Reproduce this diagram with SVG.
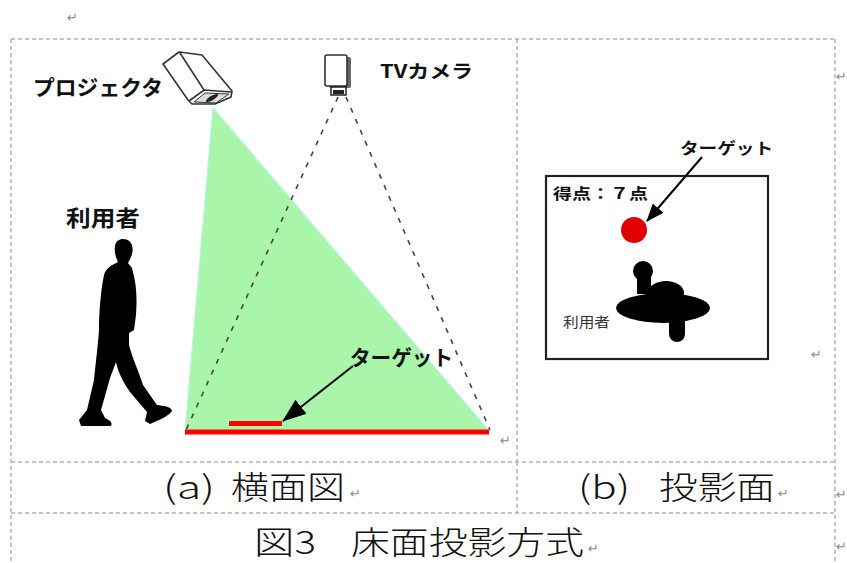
<svg xmlns="http://www.w3.org/2000/svg" width="847" height="563" viewBox="0 0 847 563">
  <style>
    .grid { stroke: #a3b5cf; stroke-width: 1.5; stroke-dasharray: 4 3; fill: none; }
    .lbl { font-family: "Noto Sans CJK JP", "Liberation Sans", sans-serif; font-weight: bold; fill: #111; }
    .cap { font-family: "Noto Sans CJK JP", "Liberation Serif", serif; font-weight: 300; fill: #111; font-size: 32px; }
    .mark { font-family: "DejaVu Sans", sans-serif; fill: #8a8a8a; font-size: 13px; }
    .beam { stroke: #444; stroke-width: 1.6; stroke-dasharray: 5 7; fill: none; }
    .arrow { stroke: #000; stroke-width: 2; fill: none; }
    .icon { fill: #fff; stroke: #333; stroke-width: 1.6; stroke-linejoin: round; }
  </style>
  <defs>
    <marker id="head" markerWidth="24" markerHeight="18" refX="23" refY="9" orient="auto" markerUnits="userSpaceOnUse">
      <path d="M0,0 L24,9 L0,18 z" fill="#000"/>
    </marker>
    <marker id="headSmall" markerWidth="18" markerHeight="14" refX="17" refY="7" orient="auto" markerUnits="userSpaceOnUse">
      <path d="M0,0 L18,7 L0,14 z" fill="#000"/>
    </marker>
  </defs>

  <rect width="847" height="563" fill="#fff"/>

  <!-- table grid -->
  <g id="table">
    <line class="grid" x1="11" y1="39" x2="835" y2="39"/>
    <line class="grid" x1="11" y1="39" x2="11" y2="563"/>
    <line class="grid" x1="835" y1="39" x2="835" y2="563"/>
    <line class="grid" x1="517" y1="39" x2="517" y2="462"/>
    <line class="grid" x1="11" y1="462" x2="835" y2="462"/>
    <line class="grid" x1="517" y1="462" x2="517" y2="513"/>
    <line class="grid" x1="11" y1="513" x2="835" y2="513"/>
  </g>

  <!-- (a) side view -->
  <g id="projection-area">
    <polygon points="213,108 185,432 490,432" fill="#a9f5a9" stroke="#b4f2e2" stroke-width="1.2"/>
  </g>

  <g id="target-a">
    <rect x="229" y="421" width="53" height="5" fill="#f00"/>
    <text class="lbl" x="350" y="365" font-size="21" textLength="103" lengthAdjust="spacingAndGlyphs">ターゲット</text>
  </g>

  <g id="projector">
    <polygon class="icon" points="163,64 179,52 202,55 232,91 231,97 215,104 192,104 188,100"/>
    <line x1="180" y1="53" x2="204" y2="90" stroke="#333" stroke-width="1.6"/>
    <polyline points="189,101 204,90 231,92" fill="none" stroke="#333" stroke-width="1.6"/>
    <polygon points="194,102 205,93 229,94 216,103" fill="#ddd" stroke="#333" stroke-width="1"/>
    <ellipse cx="212" cy="98" rx="7" ry="2.2" transform="rotate(-30 212 98)" fill="#222"/>
    <text class="lbl" x="33" y="95" font-size="21" textLength="130" lengthAdjust="spacingAndGlyphs">プロジェクタ</text>
  </g>

  <g id="tv-camera">
    <rect x="329" y="57" width="22" height="31" rx="2" fill="#666"/>
    <rect x="325" y="55" width="22" height="31" rx="2" class="icon"/>
    <rect x="331" y="87" width="15" height="8" fill="#fff" stroke="#222" stroke-width="1.5"/>
    <rect x="333" y="90" width="11" height="4" fill="#222"/>
    <text class="lbl" x="380" y="78" font-size="18" textLength="93" lengthAdjust="spacingAndGlyphs">TVカメラ</text>
  </g>

  <g id="user-a">
    <text class="lbl" x="66" y="226" font-size="22" textLength="74" lengthAdjust="spacingAndGlyphs">利用者</text>
    <path fill="#000" d="M123,239 C131,239 134,246 132,254 C131,258 129,261 128,263 L132,268 C137,285 137,300 136,315 L134,330 L129,333 L129,345 C133,360 139,372 143,385 L157,405 C163,406 171,406 172,411 C169,416 159,420 150,424 L145,421 L147,412 L130,392 C123,382 118,372 116,362 L110,378 L101,410 L105,418 C109,420 113,422 111,426 L81,426 L79,420 L87,410 L94,380 C96,360 98,345 99,330 C99,310 101,290 104,275 C106,268 112,265 118,262 C116,258 114,252 115,246 C116,241 119,239 123,239 Z"/>
  </g>

  <!-- (b) projected surface -->
  <g id="screen">
    <rect x="546" y="176" width="222" height="183" fill="#fff" stroke="#222" stroke-width="2.2"/>
    <text class="lbl" x="553" y="199" font-size="15" textLength="95" lengthAdjust="spacingAndGlyphs">得点：７点</text>
  </g>

  <g id="target-b">
    <circle cx="634" cy="230" r="13" fill="#e00000"/>
    <text class="lbl" x="680" y="154" font-size="16" textLength="93" lengthAdjust="spacingAndGlyphs">ターゲット</text>
  </g>

  <g id="user-b">
    <circle cx="643" cy="271" r="10" fill="#000"/>
    <rect x="637" y="272" width="14" height="22" fill="#000"/>
    <ellipse cx="666" cy="293" rx="18" ry="12" fill="#000"/>
    <ellipse cx="663" cy="308" rx="47" ry="15" fill="#000"/>
    <rect x="669" y="306" width="16" height="36" rx="8" fill="#000"/>
    <text x="563" y="327" font-size="14" textLength="47" lengthAdjust="spacingAndGlyphs" font-family="Noto Sans CJK JP, sans-serif" fill="#333">利用者</text>
  </g>

  <!-- camera view lines and pointer arrows -->
  <g id="connectors">
    <line class="beam" x1="338" y1="97" x2="186" y2="430"/>
    <line class="beam" x1="346" y1="97" x2="490" y2="430"/>
    <line class="arrow" x1="353" y1="366" x2="283" y2="421" marker-end="url(#head)"/>
    <line class="arrow" x1="702" y1="157" x2="647" y2="221" marker-end="url(#headSmall)"/>
  </g>

  <g id="floor">
    <line x1="185" y1="432" x2="489" y2="432" stroke="#f00" stroke-width="5"/>
  </g>

  <!-- captions -->
  <g id="captions">
    <text class="cap" x="163" y="499" textLength="52" lengthAdjust="spacingAndGlyphs">(a)</text>
    <text class="cap" x="231" y="499" textLength="114" lengthAdjust="spacingAndGlyphs">横面図</text>
    <text class="cap" x="578" y="499" textLength="52" lengthAdjust="spacingAndGlyphs">(b)</text>
    <text class="cap" x="659" y="499" textLength="116" lengthAdjust="spacingAndGlyphs">投影面</text>
    <text class="cap" x="254" y="554" textLength="62" lengthAdjust="spacingAndGlyphs">図3</text>
    <text class="cap" x="351" y="554" textLength="233" lengthAdjust="spacingAndGlyphs">床面投影方式</text>
  </g>

  <!-- paragraph marks -->
  <g id="marks">
    <text class="mark" x="67" y="22">↵</text>
    <text class="mark" x="500" y="445">↵</text>
    <text class="mark" x="811" y="359">↵</text>
    <text class="mark" x="350" y="498">↵</text>
    <text class="mark" x="778" y="498">↵</text>
    <text class="mark" x="588" y="553">↵</text>
    <text class="mark" x="836" y="81" font-size="10">↵</text>
    <text class="mark" x="836" y="499" font-size="10">↵</text>
    <text class="mark" x="836" y="551" font-size="10">↵</text>
  </g>
</svg>
